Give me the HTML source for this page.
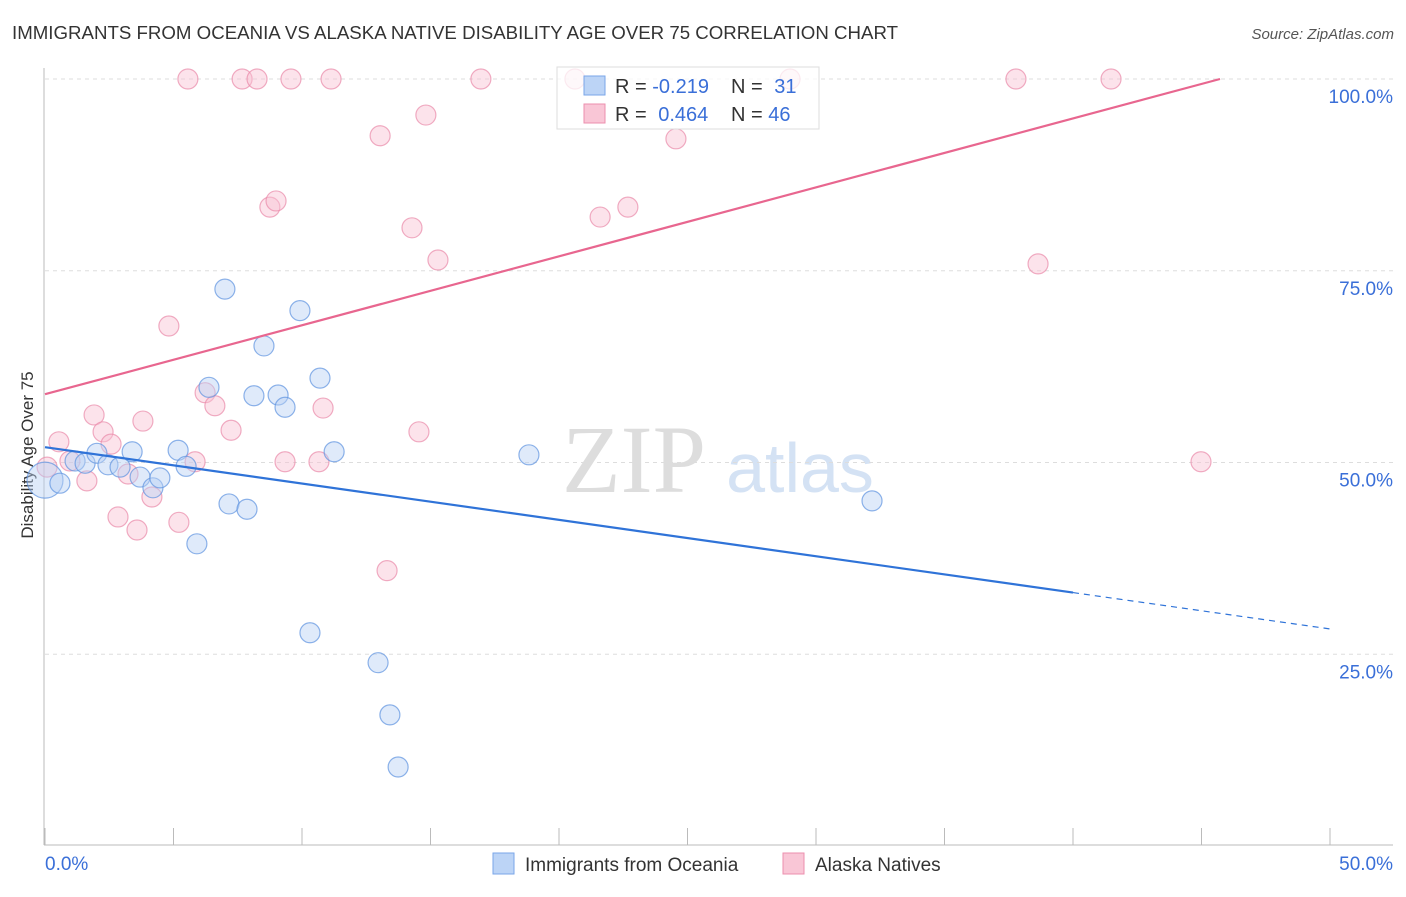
<!DOCTYPE html>
<html><head><meta charset="utf-8"><style>
body{margin:0;background:#fff;font-family:"Liberation Sans",sans-serif}
</style></head><body>
<svg id="c" width="1406" height="892" xmlns="http://www.w3.org/2000/svg">
<text x="12" y="39" font-size="18" fill="#333" textLength="886" lengthAdjust="spacingAndGlyphs">IMMIGRANTS FROM OCEANIA VS ALASKA NATIVE DISABILITY AGE OVER 75 CORRELATION CHART</text>
<text x="1394" y="39" font-size="15" fill="#555" font-style="italic" text-anchor="end">Source: ZipAtlas.com</text>
<text x="634" y="492" font-size="96" fill="#ddd" font-family="Liberation Serif,serif" text-anchor="middle">ZIP</text>
<text x="800" y="492" font-size="70" fill="#d4e2f4" text-anchor="middle">atlas</text>
<text transform="translate(33,455) rotate(-90)" font-size="17" fill="#333" text-anchor="middle">Disability Age Over 75</text>
<g id="grid"></g><g id="marks"></g>
<rect x="557" y="67" width="262" height="62" fill="#fff" fill-opacity="0.75" stroke="#ddd"/>
<rect x="584" y="76" width="21" height="19" fill="#bcd4f6" stroke="#7aa6e8"/>
<rect x="584" y="104" width="21" height="19" fill="#f9c6d6" stroke="#ec8fae"/>
<g font-size="20">
<text x="615" y="93" fill="#333">R = <tspan fill="#3a6fd8">-0.219</tspan></text><text x="731" y="93" fill="#333">N = <tspan fill="#3a6fd8" dx="6">31</tspan></text>
<text x="615" y="121" fill="#333">R = <tspan fill="#3a6fd8" dx="6">0.464</tspan></text><text x="731" y="121" fill="#333">N = <tspan fill="#3a6fd8">46</tspan></text>
</g>
<rect x="493" y="853" width="21" height="21" fill="#bcd4f6" stroke="#7aa6e8"/>
<text x="525" y="871" font-size="19" fill="#333">Immigrants from Oceania</text>
<rect x="783" y="853" width="21" height="21" fill="#f9c6d6" stroke="#ec8fae"/>
<text x="815" y="871" font-size="19" fill="#333">Alaska Natives</text>
</svg>
<script>
const blueX=[0.0,0.58,1.17,1.56,2.02,2.45,2.92,3.39,3.70,4.20,4.47,5.18,5.49,5.91,6.38,7.00,7.16,7.86,8.13,8.52,9.07,9.34,9.92,10.31,10.70,11.25,12.96,13.42,13.74,18.83,32.18];
const blueY=[47.7,47.3,50.2,49.9,51.2,49.7,49.4,51.4,48.1,46.7,48.0,51.6,49.5,39.4,59.8,72.6,44.6,43.9,58.7,65.2,58.8,57.2,69.8,27.8,61.0,51.4,23.9,17.1,10.3,51.0,45.0];
const pinkX=[0.08,0.54,0.97,1.63,1.91,2.26,2.57,2.84,3.23,3.58,3.81,4.16,4.82,5.21,5.56,5.84,6.23,6.61,7.24,7.67,8.25,8.75,8.99,9.34,9.57,10.66,10.82,11.13,13.04,13.31,14.28,14.55,14.82,15.29,16.96,20.62,21.60,22.68,24.55,28.99,37.78,38.64,41.48,44.98];
const pinkY=[49.4,52.7,50.2,47.6,56.2,54.0,52.4,42.9,48.5,41.2,55.4,45.5,67.8,42.2,100,50.1,59.1,57.4,54.2,100,100,83.3,84.1,50.1,100,50.1,57.1,100,92.6,35.9,80.6,54.0,95.3,76.4,100,100,82.0,83.3,92.2,100,100,75.9,100,50.1];
const yTicks=[100,75,50,25];
const yTickLabels=["100.0%","75.0%","50.0%","25.0%"];
const xTicks=[0,5,10,15,20,25,30,35,40,45,50];
const blueLine=[52.0,28.3]; const blueSolidEnd=40;
const pinkLine=[58.9,100]; const pinkEnd=45.72;
const X=v=>45+v*25.7, Y=v=>846-v*7.67;
const NS="http://www.w3.org/2000/svg";
const grid=document.getElementById('grid'), marks=document.getElementById('marks');
function el(t,a,p){const e=document.createElementNS(NS,t);for(const k in a)e.setAttribute(k,a[k]);p.appendChild(e);return e;}
let e=el('line',{x1:44,y1:68,x2:44,y2:845,stroke:'#bbb'},grid);


e=el('line',{x1:44,y1:845,x2:1393,y2:845,stroke:'#bbb'},grid);


yTicks.forEach((t,i)=>{
 let g=el('line',{x1:45,x2:1393,y1:Y(t),y2:Y(t),stroke:'#ddd','stroke-dasharray':'4 4'},grid);
 
 
 let tx=el('text',{x:1393,y:Y(t)+24,'font-size':19,fill:'#3a6fd8','text-anchor':'end'},grid);
 tx.textContent=yTickLabels[i];
 
 
});
xTicks.forEach(t=>{
 let g=el('line',{x1:X(t),x2:X(t),y1:828,y2:845,stroke:'#bbb'},grid);
 
 
});
let l0=el('text',{x:45,y:870,'font-size':19,fill:'#3a6fd8'},grid);l0.textContent='0.0%';


let l1=el('text',{x:1393,y:870,'font-size':19,fill:'#3a6fd8','text-anchor':'end'},grid);l1.textContent='50.0%';


function pts(xs,ys,fill,stroke,name){xs.forEach((x,i)=>{
 const r=(i===0&&name==='oceania-point')?18:10;
 let c=el('circle',{cx:X(x),cy:Y(ys[i]),r:r,fill:fill,'fill-opacity':0.45,stroke:stroke,'stroke-opacity':0.7,'stroke-width':1.2},marks);
 
 
});}
pts(pinkX,pinkY,'#f8c0d2','#e98aa9','alaska-point');
pts(blueX,blueY,'#b9d1f4','#5e93e0','oceania-point');
const slopeB=(blueLine[1]-blueLine[0])/50;
e=el('line',{x1:X(0),y1:Y(blueLine[0]),x2:X(blueSolidEnd),y2:Y(blueLine[0]+slopeB*blueSolidEnd),stroke:'#2f73d8','stroke-width':2.2},marks);


e=el('line',{x1:X(blueSolidEnd),y1:Y(blueLine[0]+slopeB*blueSolidEnd),x2:X(50),y2:Y(blueLine[1]),stroke:'#2f73d8','stroke-width':1.2,'stroke-dasharray':'6 5'},marks);


e=el('line',{x1:X(0),y1:Y(pinkLine[0]),x2:X(pinkEnd),y2:Y(pinkLine[1]),stroke:'#e8668f','stroke-width':2.2},marks);


</script>
</body></html>
